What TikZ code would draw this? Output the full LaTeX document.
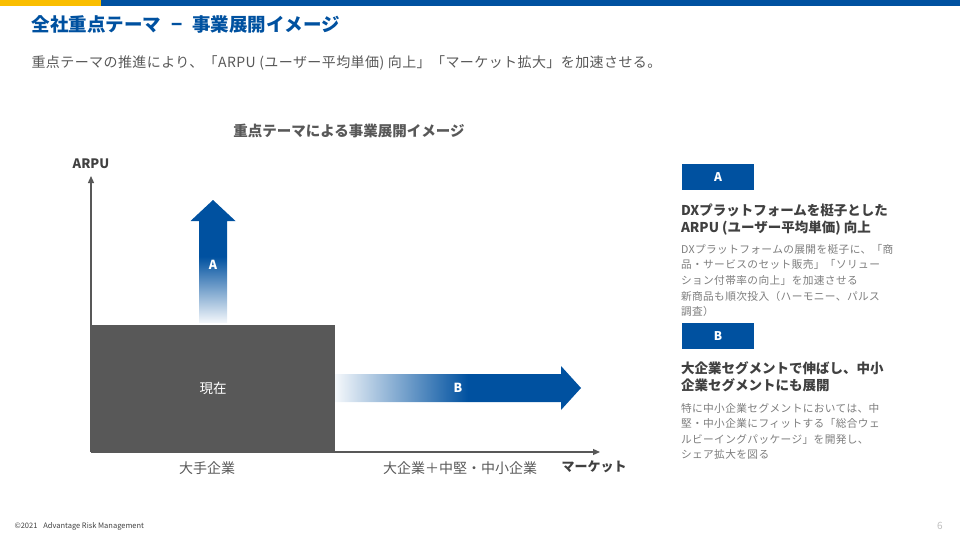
\documentclass[tikz,border=0pt]{standalone}
\usepackage{fontspec}
\setmainfont{Noto Sans CJK JP}
\usetikzlibrary{arrows.meta,positioning}
\definecolor{corpblue}{RGB}{0,81,160}
\definecolor{corpyellow}{RGB}{250,190,0}
\definecolor{ink}{RGB}{64,64,64}
\definecolor{slate}{RGB}{88,88,88}
\definecolor{mist}{RGB}{125,125,125}
\definecolor{faint}{RGB}{190,190,190}
\colorlet{paleblue}{corpblue!4}
\pgfdeclareverticalshading{fadeup}{100bp}{color(0bp)=(paleblue); color(25bp)=(paleblue);
  color(52bp)=(corpblue); color(100bp)=(corpblue)}
\pgfdeclarehorizontalshading{faderight}{100bp}{color(0bp)=(paleblue); color(25bp)=(paleblue);
  color(52bp)=(corpblue); color(100bp)=(corpblue)}
\tikzset{
  >={Triangle[length=7pt,width=6pt]},
  axis/.style={->,draw=slate,line width=1.2pt},
  tagbox/.style={fill=corpblue,text=white,minimum width=72pt,minimum height=26pt,
    inner sep=0pt,font=\fontsize{12}{14}\selectfont\bfseries},
  headline/.style={inner sep=0pt,text=ink,align=left,font=\fontsize{13.5}{17}\selectfont\bfseries},
  bodytext/.style={inner sep=0pt,text=mist,align=left,
    font=\fontsize{10.7}{15.6}\selectfont\addfontfeature{LetterSpace=3.5}},
  ticklabel/.style={text=slate,font=\fontsize{14}{16}\selectfont},
  axislabel/.style={text=ink,font=\fontsize{13}{15}\selectfont\bfseries},
  arrowlabel/.style={text=white,font=\fontsize{12.5}{14}\selectfont\bfseries},
}
\begin{document}
\begin{tikzpicture}[x=1pt,y=-1pt]
  \useasboundingbox (0,0) rectangle (960,540);
  % header
  \fill[corpyellow] (0,0) rectangle (101,6.5);
  \fill[corpblue] (101,0) rectangle (960,6.5);
  \node[anchor=west,text=corpblue,font=\fontsize{18.5}{20}\selectfont\bfseries] (title) at (28,24)
    {全社重点テーマ\hspace{10pt}−\hspace{10pt}事業展開イメージ};
  \node[anchor=west,text=slate,font=\fontsize{14}{16}\selectfont\addfontfeature{LetterSpace=3}] (lead) at (28,63)
    {重点テーマの推進により、「ARPU (ユーザー平均単価) 向上」「マーケット拡大」を加速させる。};

  % chart
  \node[text=slate,font=\fontsize{14.5}{16}\selectfont\bfseries] (charttitle) at (349,131)
    {重点テーマによる事業展開イメージ};
  \coordinate (origin) at (91,452);
  \coordinate (ytip) at (91,176);
  \coordinate (xtip) at (600,452);
  \draw[axis] (origin) -- (xtip);
  \draw[axis] (origin) -- (ytip);
  \node[axislabel,above=4pt of ytip] (arpu) {ARPU};
  \node[fill=slate,minimum width=244pt,minimum height=127pt,inner sep=0pt,anchor=south west,
    text=white,font=\fontsize{13.5}{16}\selectfont] (now) at (origin) {現在};
  \shade[shading=fadeup] (199,323) -- (199,221) -- (190.5,221) -- (213,200) -- (235.5,221)
    -- (227,221) -- (227,323) -- cycle;
  \node[arrowlabel] (labelA) at (213,265) {A};
  \shade[shading=faderight] (335,374) -- (561,374) -- (561,366) -- (581,388) -- (561,410)
    -- (561,402) -- (335,402) -- cycle;
  \node[arrowlabel] (labelB) at (458,388) {B};
  \node[ticklabel] (large) at (207,468) {大手企業};
  \node[ticklabel] (smb) at (460,468) {大企業＋中堅・中小企業};
  \node[axislabel] (market) at (594,467) {マーケット};

  % right panel
  \node[tagbox] (tagA) at (718,177) {A};
  \node[headline,below right=13pt and -1pt of tagA.south west] (headA)
    {DXプラットフォームを梃子とした\\ARPU (ユーザー平均単価) 向上};
  \node[bodytext,below right=9pt and 0pt of headA.south west] (bodyA)
    {DXプラットフォームの展開を梃子に、「商\\品・サービスのセット販売」「ソリュー\\ション付帯率の向上」を加速させる\\新商品も順次投入（ハーモニー、パルス\\調査）};
  \node[tagbox] (tagB) at (718,336) {B};
  \node[headline,below right=12pt and -1pt of tagB.south west] (headB)
    {大企業セグメントで伸ばし、中小\\企業セグメントにも展開};
  \node[bodytext,below right=11pt and 0pt of headB.south west] (bodyB)
    {特に中小企業セグメントにおいては、中\\堅・中小企業にフィットする「総合ウェ\\ルビーイングパッケージ」を開発し、\\シェア拡大を図る};

  % footer
  \node[anchor=west,text=ink,font=\fontsize{7.5}{8}\selectfont] (copy) at (11,526)
    {©2021\hspace{6pt}Advantage Risk Management};
  \node[text=faint,font=\fontsize{10}{11}\selectfont] (page) at (940,526) {6};
\end{tikzpicture}
\end{document}
